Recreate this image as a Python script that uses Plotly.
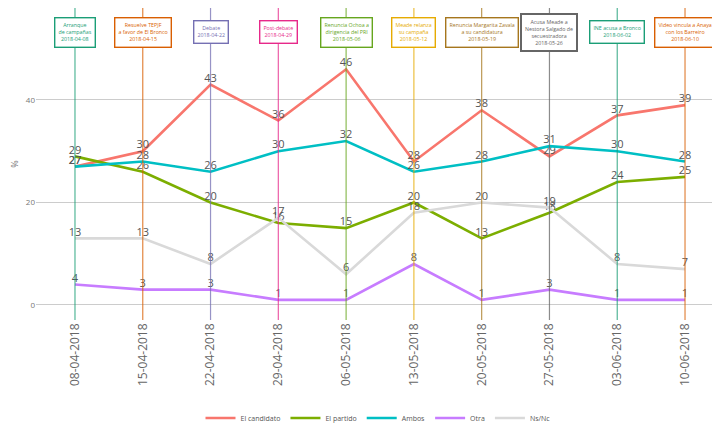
import plotly.graph_objects as go

fechas = ["08-04-2018", "15-04-2018", "22-04-2018", "29-04-2018", "06-05-2018",
          "13-05-2018", "20-05-2018", "27-05-2018", "03-06-2018", "10-06-2018"]

el_candidato = [27, 30, 43, 36, 46, 28, 38, 29, 37, 39]
el_partido = [29, 26, 20, 16, 15, 20, 13, 18, 24, 25]
ambos = [27, 28, 26, 30, 32, 26, 28, 31, 30, 28]
otra = [4, 3, 3, 1, 1, 8, 1, 3, 1, 1]
ns_nc = [13, 13, 8, 17, 6, 18, 20, 19, 8, 7]

series_names = ["El candidato", "El partido", "Ambos", "Otra", "Ns/Nc"]
series_values = [el_candidato, el_partido, ambos, otra, ns_nc]
series_colors = ["#F8766D", "#7CAE00", "#00BFC4", "#C77CFF", "#D9D9D9"]

eventos_fecha = fechas
eventos_texto = [
    "Arranque<br>de campañas<br>2018-04-08",
    "Resuelve TEPJF<br>a favor de El Bronco<br>2018-04-15",
    "Debate<br>2018-04-22",
    "Post-debate<br>2018-04-29",
    "Renuncia Ochoa a<br>dirigencia del PRI<br>2018-05-06",
    "Meade relanza<br>su campaña<br>2018-05-12",
    "Renuncia Margarita Zavala<br>a su candidatura<br>2018-05-19",
    "Acusa Meade a<br>Nestora Salgado de<br>secuestradora<br>2018-05-26",
    "INE acusa a Bronco<br>2018-06-02",
    "Video vincula a Anaya<br>con los Barreiro<br>2018-06-10",
]
eventos_color = ["#1b9e77", "#d95f02", "#7570b3", "#e7298a", "#66a61e",
                 "#e6ab02", "#a6761d", "#666666", "#1b9e77", "#d95f02"]

fig = go.Figure()
for name, vals, col in zip(series_names, series_values, series_colors):
    fig.add_trace(go.Scatter(
        x=fechas, y=vals, name=name, mode="lines+text",
        text=[str(v) for v in vals], textposition="top center",
        textfont=dict(size=11, color="#555555"),
        line=dict(color=col, width=2.6),
    ))

for f, t, c in zip(eventos_fecha, eventos_texto, eventos_color):
    fig.add_shape(type="line", xref="x", yref="paper", x0=f, x1=f, y0=0, y1=1,
                  line=dict(color=c, width=1.2), opacity=0.75, layer="above")
    fig.add_annotation(x=f, xref="x", y=0.923, yref="paper", text=t,
                       showarrow=False, font=dict(size=5.3, color=c),
                       bgcolor="white", bordercolor=c,
                       borderwidth=2 if c == "#666666" else 1.4, borderpad=3,
                       xanchor="center", yanchor="middle")

fig.update_layout(
    width=720, height=424,
    margin=dict(l=28, r=8, t=0, b=112, autoexpand=False),
    paper_bgcolor="white", plot_bgcolor="white",
    font=dict(family="Open Sans", color="#666666"),
    showlegend=True,
    legend=dict(orientation="h", x=0.5, xanchor="center",
                y=-0.314, yanchor="middle",
                font=dict(size=7, color="#555555"), itemwidth=30,
                tracegroupgap=0),
    xaxis=dict(type="category", range=[-0.575, 9.516], showgrid=False, zeroline=False,
               tickangle=-90, tickfont=dict(size=12, color="#666666"), ticks="",
               automargin=False),
    yaxis=dict(range=[-2.93, 57.95], tickvals=[0, 20, 40], showgrid=True,
               gridcolor="#CCCCCC", gridwidth=1, zeroline=False,
               tickfont=dict(size=8, color="#777777"), automargin=False,
               title=dict(text="%", font=dict(size=9, color="#777777"), standoff=6)),
)

fig.write_html("out.html")
